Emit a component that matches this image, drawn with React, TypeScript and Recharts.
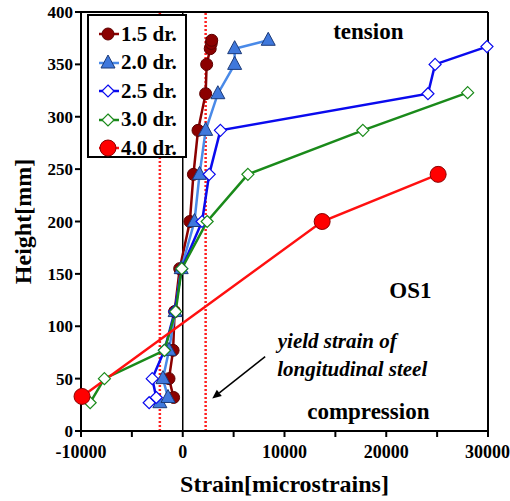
import React from "react";
import {
  LineChart,
  Line,
  XAxis,
  YAxis,
  ReferenceLine,
  ReferenceDot,
  Legend,
} from "recharts";

// heights [mm] and strains [microstrains]
const heights15 = [32, 50, 77, 114, 155, 200, 245, 287, 322, 350, 365, 370, 373];
const strain15 = [-900, -1350, -950, -800, -300, 700, 1050, 1500, 2250, 2350, 2700, 2800, 2850];

const heights20 = [27, 32, 50, 77, 114, 155, 200, 245, 287, 322, 350, 365, 373];
const strain20 = [-2250, -1450, -1950, -1350, -750, -150, 1150, 1650, 2250, 3450, 5100, 5100, 8400];

const heights25 = [27, 32, 50, 77, 114, 155, 200, 245, 287, 322, 350, 367];
const strain25 = [-3300, -2600, -3000, -1800, -800, -100, 1900, 2600, 3700, 24100, 24800, 29900];

const heights30 = [27, 50, 77, 114, 155, 200, 245, 287, 323];
const strain30 = [-9100, -7700, -1800, -700, -100, 2400, 6400, 17700, 28000];

const heights40 = [33, 200, 245];
const strain40 = [-9900, 13700, 25100];

const xTicks = [-10000, -5000, 0, 5000, 10000, 15000, 20000, 25000, 30000];
const yTicks = [0, 50, 100, 150, 200, 250, 300, 350, 400];
const yieldStrain = 2250;

const FONT = '"Liberation Serif", "Times New Roman", serif';

type Kind = "circle" | "triangle" | "diamond" | "bigCircle";

interface Series {
  name: string;
  color: string;
  marker: Kind;
  markerFill: string;
  markerStroke: string;
  data: { x: number; y: number }[];
}

const toPoints = (h: number[], s: number[]) => h.map((y, i) => ({ x: s[i], y }));

const series: Series[] = [
  { name: "1.5 dr.", color: "#8b0000", marker: "circle", markerFill: "#8b0000", markerStroke: "#5c0000", data: toPoints(heights15, strain15) },
  { name: "2.0 dr.", color: "#4a8ae8", marker: "triangle", markerFill: "#3f78dc", markerStroke: "#1c3a78", data: toPoints(heights20, strain20) },
  { name: "2.5 dr.", color: "#0a0aee", marker: "diamond", markerFill: "#ffffff", markerStroke: "#0a0aee", data: toPoints(heights25, strain25) },
  { name: "3.0 dr.", color: "#1a8a1a", marker: "diamond", markerFill: "#ffffff", markerStroke: "#1a8a1a", data: toPoints(heights30, strain30) },
  { name: "4.0 dr.", color: "#ff1010", marker: "bigCircle", markerFill: "#ff0000", markerStroke: "#8b0000", data: toPoints(heights40, strain40) },
];

function Marker({ kind, cx, cy, fill, stroke }: { kind: Kind; cx: number; cy: number; fill: string; stroke: string }) {
  if (kind === "circle") return <circle cx={cx} cy={cy} r={6} fill={fill} stroke={stroke} strokeWidth={1} />;
  if (kind === "bigCircle") return <circle cx={cx} cy={cy} r={8} fill={fill} stroke={stroke} strokeWidth={1} />;
  if (kind === "triangle")
    return (
      <polygon
        points={`${cx},${cy - 8} ${cx - 7},${cy + 5} ${cx + 7},${cy + 5}`}
        fill={fill}
        stroke={stroke}
        strokeWidth={1}
      />
    );
  return (
    <polygon
      points={`${cx},${cy - 6} ${cx + 6},${cy} ${cx},${cy + 6} ${cx - 6},${cy}`}
      fill={fill}
      stroke={stroke}
      strokeWidth={1.2}
    />
  );
}

const makeDot = (s: Series) => (props: any) => {
  const { cx, cy, index } = props;
  if (cx == null || cy == null) return <g key={index} />;
  return (
    <g key={`${s.name}-${index}`}>
      <Marker kind={s.marker} cx={cx} cy={cy} fill={s.markerFill} stroke={s.markerStroke} />
    </g>
  );
};

function LegendBox() {
  return (
    <div
      style={{
        background: "#fff",
        border: "2px solid #000",
        width: 100,
        height: 144,
        padding: "4px 0 0 8px",
        boxSizing: "border-box",
        fontFamily: FONT,
      }}
    >
      {series.map((s) => (
        <div key={s.name} style={{ display: "flex", alignItems: "center", height: 28.5 }}>
          <svg width={24} height={20} style={{ flex: "none" }}>
            <line x1={2} y1={10} x2={22} y2={10} stroke={s.color} strokeWidth={2.5} />
            <Marker kind={s.marker} cx={11} cy={10} fill={s.markerFill} stroke={s.markerStroke} />
          </svg>
          <span style={{ fontSize: 21, fontWeight: 700, color: "#000", whiteSpace: "nowrap" }}>{s.name}</span>
        </div>
      ))}
    </div>
  );
}

function Arrow(props: any) {
  const { x1, y1, x2, y2 } = props;
  if (x1 == null) return null;
  const ang = Math.atan2(y2 - y1, x2 - x1);
  const len = 9;
  const w = 4;
  const bx = x2 - len * Math.cos(ang);
  const by = y2 - len * Math.sin(ang);
  const px = -Math.sin(ang) * w;
  const py = Math.cos(ang) * w;
  return (
    <g>
      <line x1={x1} y1={y1} x2={bx} y2={by} stroke="#000" strokeWidth={1.5} />
      <polygon points={`${x2},${y2} ${bx + px},${by + py} ${bx - px},${by - py}`} fill="#000" />
    </g>
  );
}

const textLabel = (value: string, size: number, italic = false) => ({
  value,
  position: "center" as const,
  fontSize: size,
  fontWeight: 700,
  fontStyle: italic ? "italic" : "normal",
  fontFamily: FONT,
  fill: "#000",
});

export default function App() {
  return (
    <div style={{ width: 510, height: 501 }}>
      <style>{"body{margin:0;}"}</style>
      <LineChart width={510} height={501} margin={{ top: 12, right: 22, bottom: 0, left: 0 }}>
        <XAxis
          type="number"
          dataKey="x"
          domain={[-10000, 30000]}
          ticks={xTicks}
          tickFormatter={(v: number) => (v % 10000 === 0 ? String(v) : "")}
          height={70}
          stroke="#000"
          strokeWidth={2}
          tickSize={6}
          tickMargin={8}
          tick={{ fontSize: 18, fontWeight: 700, fontFamily: FONT, fill: "#000" }}
          label={{
            value: "Strain[microstrains]",
            position: "insideBottom",
            offset: 9,
            fontSize: 24,
            fontWeight: 700,
            fontFamily: FONT,
            fill: "#000",
          }}
        />
        <YAxis
          type="number"
          dataKey="y"
          domain={[0, 400]}
          ticks={yTicks}
          width={81}
          stroke="#000"
          strokeWidth={2}
          tickSize={6}
          tick={{ fontSize: 17, fontWeight: 700, fontFamily: FONT, fill: "#000" }}
          label={{
            value: "Height[mm]",
            angle: -90,
            position: "insideLeft",
            offset: 22,
            fontSize: 24,
            fontWeight: 700,
            fontFamily: FONT,
            fill: "#000",
            style: { textAnchor: "middle" },
          }}
        />
        <ReferenceLine y={400} stroke="#000" strokeWidth={2} />
        <ReferenceLine x={30000} stroke="#000" strokeWidth={2} />
        <ReferenceLine x={0} stroke="#000" strokeWidth={1.5} />
        <ReferenceLine x={-yieldStrain} stroke="#ff2020" strokeWidth={2.5} strokeDasharray="2 2" />
        <ReferenceLine x={yieldStrain} stroke="#ff2020" strokeWidth={2.5} strokeDasharray="2 2" />

        {series.map((s) => (
          <Line
            key={s.name}
            name={s.name}
            data={s.data}
            dataKey="y"
            stroke={s.color}
            strokeWidth={2.5}
            dot={makeDot(s)}
            activeDot={false}
            isAnimationActive={false}
          />
        ))}

        <ReferenceLine
          segment={[
            { x: 8100, y: 71 },
            { x: 2900, y: 31 },
          ]}
          shape={Arrow}
        />
        <ReferenceDot x={18240} y={382} r={0} fill="none" stroke="none" label={textLabel("tension", 23)} />
        <ReferenceDot x={22370} y={135} r={0} fill="none" stroke="none" label={textLabel("OS1", 23)} />
        <ReferenceDot x={15190} y={86} r={0} fill="none" stroke="none" label={textLabel("yield strain of", 21, true)} />
        <ReferenceDot x={16660} y={60} r={0} fill="none" stroke="none" label={textLabel("longitudinal steel", 21, true)} />
        <ReferenceDot x={18240} y={19} r={0} fill="none" stroke="none" label={textLabel("compression", 23)} />

        <Legend
          layout="vertical"
          align="center"
          verticalAlign="middle"
          content={() => <LegendBox />}
          wrapperStyle={{ left: 87, top: 14, width: 100, height: 144 }}
        />
      </LineChart>
    </div>
  );
}
